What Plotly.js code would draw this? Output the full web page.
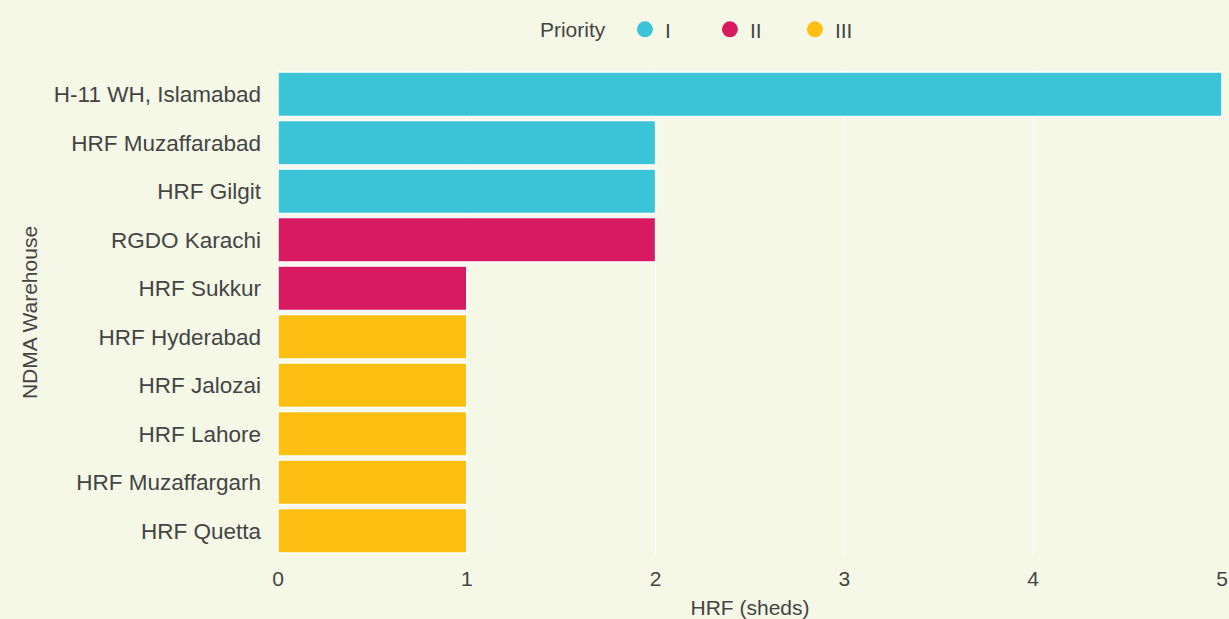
<!DOCTYPE html>
<html>
<head>
<meta charset="utf-8">
<script src="https://cdn.plot.ly/plotly-3.0.1.min.js"></script>
<style>html,body{margin:0;padding:0;background:#f5f8e7;}#chart{width:1229px;height:619px;}</style>
</head>
<body>
<div id="chart"></div>
<script>
const warehouses = ["H-11 WH, Islamabad","HRF Muzaffarabad","HRF Gilgit","RGDO Karachi","HRF Sukkur","HRF Hyderabad","HRF Jalozai","HRF Lahore","HRF Muzaffargarh","HRF Quetta"];
const sheds = [5,2,2,2,1,1,1,1,1,1];
const priority = ["I","I","I","II","II","III","III","III","III","III"];
const priorityLevels = ["I","II","III"];
const priorityColors = ["#3bc3d8","#d81b60","#fdbf12"];

const traces = [];
priorityLevels.forEach((p, k) => {
  const ys = [], xs = [];
  warehouses.forEach((w, i) => { if (priority[i] === p) { ys.push(w); xs.push(sheds[i]); } });
  traces.push({type:'bar', orientation:'h', x:xs, y:ys, name:p, showlegend:false,
    marker:{color:priorityColors[k], line:{color:'#ffffff', width:1.5}}, hoverinfo:'x+y'});
});
priorityLevels.forEach((p, k) => {
  traces.push({type:'scatter', mode:'markers', x:[null], y:[null], name:p,
    marker:{color:priorityColors[k], size:20, symbol:'circle'}, showlegend:true});
});

const F = 'Liberation Sans, Arial, sans-serif';
const layout = {
  width:1229, height:619,
  paper_bgcolor:'#f5f8e7', plot_bgcolor:'#f5f8e7',
  font:{family:F, size:21, color:'#444'},
  margin:{l:278, r:7, t:70, b:64, autoexpand:false},
  barmode:'overlay', bargap:0.08,
  xaxis:{range:[0,5], dtick:1, showgrid:true, gridcolor:'#ffffff', gridwidth:1, zeroline:false,
    ticks:'', tickfont:{size:21}, ticklabelstandoff:9,
    title:{text:'HRF (sheds)', font:{size:21}, standoff:11}},
  yaxis:{type:'category', categoryorder:'array', categoryarray:warehouses, autorange:'reversed',
    showgrid:false, ticks:'', ticklabelstandoff:16, tickfont:{size:22.5},
    title:{text:'NDMA Warehouse', font:{size:21}, standoff:10}},
  legend:{orientation:'h', x:0.457, xanchor:'center', yref:'container', y:0.952, yanchor:'middle',
    title:{text:'Priority  ', font:{size:21}}, font:{size:21}, bgcolor:'rgba(0,0,0,0)', entrywidth:40}
};
Plotly.newPlot('chart', traces, layout, {displayModeBar:false});
</script>
</body>
</html>
